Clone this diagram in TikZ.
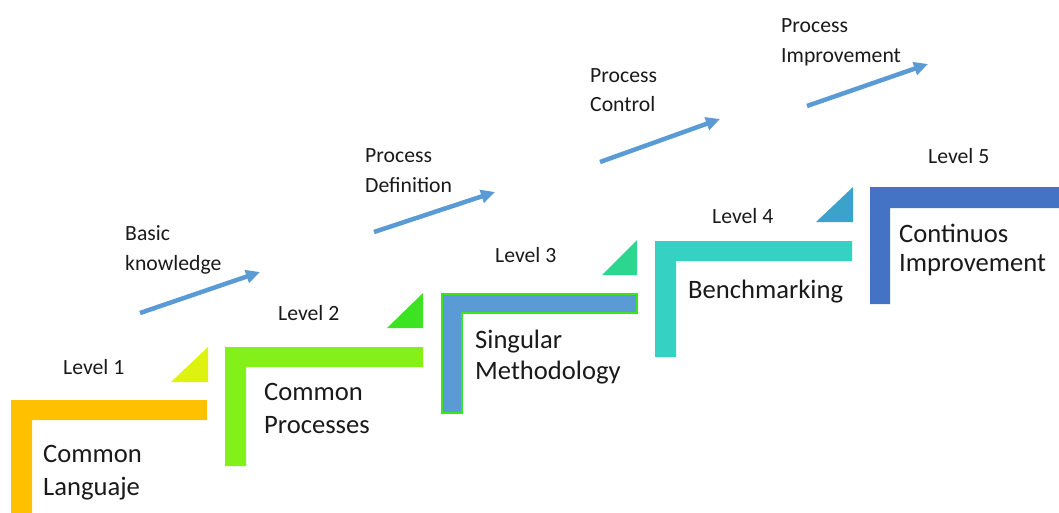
\documentclass[tikz,border=0pt]{standalone}
\usepackage{fontspec}
\setmainfont{Carlito}
\usetikzlibrary{arrows.meta}

\definecolor{stepA}{HTML}{FFC000}
\definecolor{stepB}{HTML}{84F01A}
\definecolor{stepC}{HTML}{5B9BD5}
\definecolor{stepD}{HTML}{35D2C4}
\definecolor{stepE}{HTML}{4472C4}
\definecolor{wedgeA}{HTML}{DDF20F}
\definecolor{wedgeB}{HTML}{3BE320}
\definecolor{wedgeC}{HTML}{2DD68E}
\definecolor{wedgeD}{HTML}{3BA3C9}
\definecolor{rise}{HTML}{5B9BD5}
\definecolor{ink}{HTML}{1A1A1A}

\tikzset{
  big/.style={font=\fontsize{26.6}{32}\selectfont, text=ink, anchor=base west, inner sep=0pt},
  small/.style={font=\fontsize{21.7}{30}\selectfont, text=ink, anchor=base west, inner sep=0pt},
  riser/.style={draw=rise, line width=4.5pt, -{Triangle[length=14pt,width=13pt]}},
}

% L-shaped stair: left x, right x, top y, bar thickness, post width, bottom y
\newcommand{\stairL}[7]{%
  \fill[#1] (#2,#4) -- (#3,#4) -- (#3,#4+#5) -- (#2+#6,#4+#5) -- (#2+#6,#7) -- (#2,#7) -- cycle;}

\begin{document}
\begin{tikzpicture}[x=1pt,y=-1pt]
\useasboundingbox (0,0) rectangle (1059,512);
\fill[white] (0,0) rectangle (1059,512);

% stairs
\stairL{stepA}{11}{207}{400}{20}{21}{514}
\stairL{stepB}{225}{423}{347}{20}{21}{466}
\stairL{stepC,draw=wedgeB,line width=1.2pt}{442}{637}{294}{19}{20}{413}
\stairL{stepD}{655}{852}{241}{20}{21}{357}
\stairL{stepE}{870}{1062}{187}{21}{20}{304}

% corner wedges
\fill[wedgeA] (208,347) -- (171,382) -- (208,382) -- cycle;
\fill[wedgeB] (423,293) -- (387,328) -- (423,328) -- cycle;
\fill[wedgeC] (637,240) -- (602,275) -- (637,275) -- cycle;
\fill[wedgeD] (853,187) -- (816,222) -- (853,222) -- cycle;

% level labels
\node[small] (lv1) at (63,374) {Level 1};
\node[small] (lv2) at (278,320) {Level 2};
\node[small] (lv3) at (495,262) {Level 3};
\node[small] (lv4) at (712,223) {Level 4};
\node[small] (lv5) at (928,163) {Level 5};

% stage names
\node[big] (s1a) at (43,462) {Common};
\node[big] (s1b) at (43,495) {Languaje};
\node[big] (s2a) at (264,400) {Common};
\node[big] (s2b) at (264,433) {Processes};
\node[big] (s3a) at (475,348) {Singular};
\node[big] (s3b) at (475,379) {Methodology};
\node[big] (s4a) at (688,298) {Benchmarking};
\node[big] (s5a) at (899,242) {Continuos};
\node[big] (s5b) at (899,271) {Improvement};

% progression arrows
\coordinate (r1s) at (140,313); \coordinate (r1e) at (260,272);
\coordinate (r2s) at (374,232); \coordinate (r2e) at (495,192);
\coordinate (r3s) at (600,162); \coordinate (r3e) at (720,119);
\coordinate (r4s) at (807,106); \coordinate (r4e) at (928,64);
\draw[riser] (r1s) -- (r1e);
\draw[riser] (r2s) -- (r2e);
\draw[riser] (r3s) -- (r3e);
\draw[riser] (r4s) -- (r4e);

% arrow captions
\node[small] (c1a) at (125,240) {Basic};
\node[small] (c1b) at (125,270) {knowledge};
\node[small] (c2a) at (365,162) {Process};
\node[small] (c2b) at (365,192) {Definition};
\node[small] (c3a) at (590,82) {Process};
\node[small] (c3b) at (590,111) {Control};
\node[small] (c4a) at (781,32) {Process};
\node[small] (c4b) at (781,62) {Improvement};
\end{tikzpicture}
\end{document}
